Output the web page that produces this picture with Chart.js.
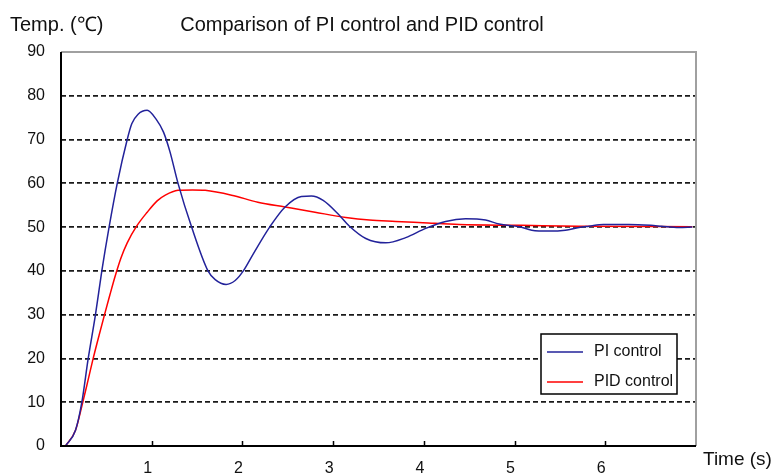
<!DOCTYPE html>
<html>
<head>
<meta charset="utf-8">
<script src="https://cdn.jsdelivr.net/npm/chart.js@4/dist/chart.umd.min.js"></script>
<style>
  html, body { margin: 0; padding: 0; background: #ffffff; }
  #wrap { width: 772px; height: 473px; }
</style>
</head>
<body>
<div id="wrap"><canvas id="chart" width="772" height="473"></canvas></div>
<script>
// Step responses (time in seconds, temperature in °C)
const piTime = [0.05, 0.16, 0.23, 0.30, 0.38, 0.45, 0.53, 0.62, 0.73, 0.78, 0.85, 0.95, 1.05, 1.13, 1.20, 1.29, 1.44, 1.62, 1.70, 1.82, 1.92, 2.01, 2.12, 2.30, 2.47, 2.65, 2.76, 2.89, 3.05, 3.18, 3.36, 3.58, 3.80, 4.02, 4.24, 4.46, 4.68, 4.83, 5.05, 5.19, 5.38, 5.56, 5.71, 5.82, 5.98, 6.26, 6.50, 6.62, 6.81, 6.96];
const piTemp = [0, 3.6, 10, 20, 30, 40, 50, 60, 70, 73.6, 75.8, 76.7, 74.6, 71.7, 67.3, 60, 50, 40, 38, 36.9, 37.8, 40, 43.9, 50, 54.6, 57.0, 57.1, 56.1, 53.1, 50.2, 47.4, 46.4, 47.6, 49.7, 51.3, 51.9, 51.6, 50.7, 50.1, 49.3, 49.1, 49.3, 49.9, 50.2, 50.6, 50.6, 50.4, 50.2, 49.9, 50];

const pidTime = [0.05, 0.16, 0.24, 0.29, 0.35, 0.42, 0.48, 0.54, 0.60, 0.66, 0.73, 0.83, 0.95, 1.06, 1.15, 1.29, 1.45, 1.59, 1.88, 2.17, 2.47, 2.80, 3.14, 3.40, 3.69, 3.99, 4.39, 5.08, 5.71, 6.96];
const pidTemp = [0, 3.6, 10, 14.3, 19.6, 25.3, 30, 34.6, 39, 42.9, 46.4, 50.1, 53.4, 56, 57.3, 58.4, 58.5, 58.4, 57.3, 55.7, 54.6, 53.4, 52.2, 51.6, 51.3, 51.0, 50.6, 50.4, 50.2, 50.1];

const seriesNames = ['PI control', 'PID control'];
const xTicks = [1, 2, 3, 4, 5, 6];
const yTicks = [0, 10, 20, 30, 40, 50, 60, 70, 80, 90];

const chartTitle = 'Comparison of PI control and PID control';
const yAxisTitle = 'Temp. (\u2103)';
const xAxisTitle = 'Time (s)';

const FONT = '"Liberation Sans", Arial, sans-serif';

function toPoints(xs, ys) {
  return xs.map((x, i) => ({ x: x, y: ys[i] }));
}

// Frame, inward tick marks, free-floating titles and the boxed legend
const decorations = {
  id: 'decorations',
  afterDatasetsDraw(chart) {
    const { ctx, chartArea: a, scales } = chart;
    ctx.save();
    // upper and right edges in grey
    ctx.strokeStyle = '#a0a0a0';
    ctx.lineWidth = 2;
    ctx.beginPath();
    ctx.moveTo(a.left, a.top);
    ctx.lineTo(a.right, a.top);
    ctx.lineTo(a.right, a.bottom);
    ctx.stroke();
    // left and bottom axes in black
    ctx.strokeStyle = '#000000';
    ctx.beginPath();
    ctx.moveTo(a.left, a.top);
    ctx.lineTo(a.left, a.bottom);
    ctx.lineTo(a.right, a.bottom);
    ctx.stroke();
    // tick marks pointing into the plot
    ctx.lineWidth = 1.5;
    ctx.beginPath();
    xTicks.forEach(v => {
      const px = Math.round(scales.x.getPixelForValue(v)) + 0.5;
      ctx.moveTo(px, a.bottom);
      ctx.lineTo(px, a.bottom - 5);
    });
    ctx.stroke();

    // legend box
    const lx = 541, ly = 334, lw = 136, lh = 60;
    ctx.fillStyle = '#ffffff';
    ctx.fillRect(lx, ly, lw, lh);
    ctx.font = '16px ' + FONT;
    ctx.textBaseline = 'middle';
    ctx.textAlign = 'left';
    const rows = [352, 382];
    chart.data.datasets.forEach((ds, i) => {
      ctx.strokeStyle = ds.borderColor;
      ctx.lineWidth = 1.5;
      ctx.beginPath();
      ctx.moveTo(lx + 6, rows[i]);
      ctx.lineTo(lx + 42, rows[i]);
      ctx.stroke();
      ctx.fillStyle = '#111111';
      ctx.fillText(ds.label, lx + 53, rows[i]);
    });
    ctx.strokeStyle = '#000000';
    ctx.lineWidth = 1.5;
    ctx.strokeRect(lx, ly, lw, lh);
    ctx.restore();
  },
  afterDraw(chart) {
    const { ctx } = chart;
    ctx.save();
    ctx.fillStyle = '#111111';
    ctx.textBaseline = 'middle';
    ctx.font = '20px ' + FONT;
    ctx.textAlign = 'left';
    ctx.fillText(yAxisTitle, 10, 25);
    ctx.textAlign = 'center';
    ctx.fillText(chartTitle, 362, 25);
    ctx.textAlign = 'left';
    ctx.font = '19px ' + FONT;
    ctx.fillText(xAxisTitle, 703, 460);
    ctx.restore();
  }
};

new Chart(document.getElementById('chart'), {
  type: 'line',
  data: {
    datasets: [
      {
        label: seriesNames[0],
        data: toPoints(piTime, piTemp),
        borderColor: '#22229a',
        borderWidth: 1.5,
        pointRadius: 0,
        cubicInterpolationMode: 'monotone',
        fill: false
      },
      {
        label: seriesNames[1],
        data: toPoints(pidTime, pidTemp),
        borderColor: '#ff0000',
        borderWidth: 1.5,
        pointRadius: 0,
        cubicInterpolationMode: 'monotone',
        fill: false
      }
    ]
  },
  options: {
    responsive: false,
    animation: false,
    devicePixelRatio: 1,
    layout: { padding: { left: 0, top: 52, right: 76, bottom: 0 } },
    plugins: {
      legend: { display: false },
      title: { display: false },
      tooltip: { enabled: false }
    },
    scales: {
      x: {
        type: 'linear',
        min: 0,
        max: 7,
        afterBuildTicks: s => { s.ticks = xTicks.map(v => ({ value: v })); },
        afterFit: s => { s.height = 27; },
        grid: { display: false, drawTicks: false },
        border: { display: false },
        ticks: {
          padding: 13,
          labelOffset: -4,
          color: '#111111',
          font: { family: FONT, size: 16 },
          maxRotation: 0,
          autoSkip: false
        }
      },
      y: {
        type: 'linear',
        min: 0,
        max: 90,
        afterBuildTicks: s => { s.ticks = yTicks.map(v => ({ value: v })); },
        afterFit: s => { s.width = 61; },
        grid: {
          drawTicks: false,
          lineWidth: 1.8,
          color: c => (c.tick && c.tick.value > 0 && c.tick.value < 90) ? '#1a1a1a' : 'rgba(0,0,0,0)'
        },
        border: { display: false, dash: [5, 3] },
        ticks: {
          padding: 16,
          color: '#111111',
          font: { family: FONT, size: 16 }
        }
      }
    }
  },
  plugins: [decorations]
});
</script>
</body>
</html>
